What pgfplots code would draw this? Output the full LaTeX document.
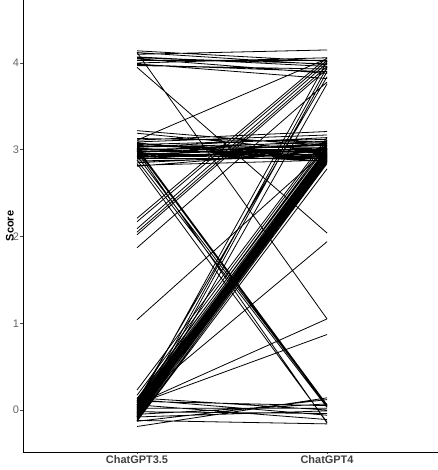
\documentclass[border=0pt]{standalone}
\usepackage{fontspec}
\setmainfont{Liberation Sans}
\usepackage{pgfplots}
\pgfplotsset{compat=1.18}

\begin{document}
\begin{tikzpicture}[x=1bp,y=1bp]
\useasboundingbox (0,0) rectangle (438,470);
\begin{axis}[
    at={(23bp,18bp)},
    anchor=south west,
    scale only axis,
    width=415bp,
    height=452bp,
    xmin=0.4, xmax=2.584,
    ymin=-0.484, ymax=4.726,
    axis lines=left,
    axis line style={black,line width=0.9bp,-},
    xtick={1,2},
    xticklabels={ChatGPT3.5,ChatGPT4},
    ytick={0,1,2,3,4},
    tick align=outside,
    major tick length=2.5bp,
    tick style={black!70,line width=0.6bp},
    x tick label style={font=\fontsize{11}{12}\selectfont\bfseries,text=black!75,yshift=2.5bp},
    y tick label style={font=\fontsize{11}{12}\selectfont,text=black!60,xshift=2bp},
    /pgf/number format/assume math mode=true,
    ylabel={\fontsize{11}{12}\selectfont\bfseries Score},
    ylabel style={at={(axis description cs:-0.0217,0.5)},anchor=south,inner sep=0pt},
    unbounded coords=jump,
    clip=false,
]
% 4 to 4
\addplot[black,line width=0.8bp] coordinates {
 (1,4.14)(2,4.02)(1,nan) (1,4.12)(2,3.98)(1,nan) (1,4.10)(2,4.15)(1,nan)
 (1,4.07)(2,3.96)(1,nan) (1,4.05)(2,3.88)(1,nan) (1,4.03)(2,4.03)(1,nan)
 (1,4.00)(2,4.06)(1,nan) (1,3.98)(2,3.90)(1,nan) (1,3.97)(2,3.93)(1,nan)
 (1,3.99)(2,3.82)(1,nan) (1,4.06)(2,3.99)(1,nan)
};
% 3 to 3
\addplot[black,line width=0.8bp] coordinates {
 (1,3.22)(2,3.04)(1,nan) (1,3.19)(2,2.98)(1,nan) (1,3.11)(2,3.21)(1,nan)
 (1,3.09)(2,3.17)(1,nan) (1,3.07)(2,2.92)(1,nan) (1,3.06)(2,3.12)(1,nan)
 (1,3.05)(2,2.96)(1,nan) (1,3.04)(2,3.02)(1,nan) (1,3.03)(2,3.08)(1,nan)
 (1,3.02)(2,2.89)(1,nan) (1,3.01)(2,3.00)(1,nan) (1,3.00)(2,2.94)(1,nan)
 (1,2.99)(2,3.10)(1,nan) (1,2.98)(2,2.97)(1,nan) (1,2.97)(2,3.05)(1,nan)
 (1,2.96)(2,2.91)(1,nan) (1,2.95)(2,3.01)(1,nan) (1,2.94)(2,2.95)(1,nan)
 (1,2.93)(2,3.07)(1,nan) (1,2.92)(2,2.93)(1,nan) (1,2.91)(2,2.99)(1,nan)
 (1,2.90)(2,2.90)(1,nan) (1,2.89)(2,3.03)(1,nan) (1,2.87)(2,2.92)(1,nan)
 (1,2.85)(2,2.96)(1,nan) (1,2.82)(2,2.88)(1,nan) (1,2.81)(2,2.99)(1,nan)
 (1,3.08)(2,2.86)(1,nan) (1,3.03)(2,3.14)(1,nan) (1,2.96)(2,2.87)(1,nan)
 (1,3.00)(2,3.06)(1,nan) (1,2.92)(2,3.00)(1,nan) (1,3.13)(2,3.09)(1,nan)
};
% 0 to 3, the thick band
\addplot[black,line width=0.8bp] coordinates {
 (1,0.23)(2,3.14)(1,nan) (1,0.17)(2,3.11)(1,nan) (1,0.13)(2,3.05)(1,nan)
 (1,0.11)(2,3.08)(1,nan) (1,0.09)(2,3.02)(1,nan) (1,0.08)(2,2.96)(1,nan)
 (1,0.06)(2,3.00)(1,nan) (1,0.05)(2,2.94)(1,nan) (1,0.04)(2,2.98)(1,nan)
 (1,0.03)(2,2.92)(1,nan) (1,0.02)(2,2.97)(1,nan) (1,0.01)(2,3.01)(1,nan)
 (1,0.00)(2,2.90)(1,nan) (1,0.00)(2,2.95)(1,nan) (1,-0.01)(2,2.93)(1,nan)
 (1,-0.02)(2,2.97)(1,nan) (1,-0.02)(2,2.88)(1,nan) (1,-0.03)(2,2.92)(1,nan)
 (1,-0.04)(2,2.89)(1,nan) (1,-0.05)(2,2.94)(1,nan) (1,-0.06)(2,2.87)(1,nan)
 (1,-0.07)(2,2.91)(1,nan) (1,-0.08)(2,2.95)(1,nan) (1,-0.09)(2,2.86)(1,nan)
 (1,-0.10)(2,2.90)(1,nan) (1,-0.12)(2,2.84)(1,nan) (1,-0.13)(2,2.78)(1,nan)
};
% low to 4 and middle to 4
\addplot[black,line width=0.8bp] coordinates {
 (1,0.06)(2,4.02)(1,nan) (1,-0.03)(2,3.95)(1,nan) (1,0.10)(2,3.84)(1,nan)
 (1,-0.08)(2,3.90)(1,nan) (1,-0.12)(2,3.76)(1,nan)
 (1,2.21)(2,4.06)(1,nan) (1,2.17)(2,4.03)(1,nan) (1,2.09)(2,4.00)(1,nan)
 (1,2.05)(2,3.96)(1,nan) (1,2.02)(2,3.93)(1,nan) (1,1.87)(2,3.78)(1,nan)
 (1,3.11)(2,4.05)(1,nan)
};
% high to low and the single crossings
\addplot[black,line width=0.8bp] coordinates {
 (1,3.02)(2,0.06)(1,nan) (1,3.00)(2,0.04)(1,nan) (1,2.98)(2,-0.15)(1,nan)
 (1,2.93)(2,0.05)(1,nan) (1,2.88)(2,0.03)(1,nan) (1,2.84)(2,-0.14)(1,nan)
 (1,4.12)(2,1.05)(1,nan) (1,3.95)(2,2.04)(1,nan)
 (1,1.04)(2,3.00)(1,nan) (1,0.11)(2,1.94)(1,nan)
 (1,0.07)(2,1.05)(1,nan) (1,0.07)(2,0.87)(1,nan)
};
% 0 to 0
\addplot[black,line width=0.8bp] coordinates {
 (1,0.14)(2,0.00)(1,nan) (1,0.12)(2,-0.06)(1,nan) (1,0.10)(2,0.05)(1,nan)
 (1,0.06)(2,-0.11)(1,nan) (1,0.02)(2,0.02)(1,nan) (1,-0.02)(2,-0.04)(1,nan)
 (1,-0.05)(2,0.07)(1,nan) (1,-0.08)(2,-0.01)(1,nan) (1,-0.13)(2,0.12)(1,nan)
 (1,-0.19)(2,0.14)(1,nan) (1,-0.12)(2,-0.16)(1,nan)
};
\end{axis}
\end{tikzpicture}
\end{document}
